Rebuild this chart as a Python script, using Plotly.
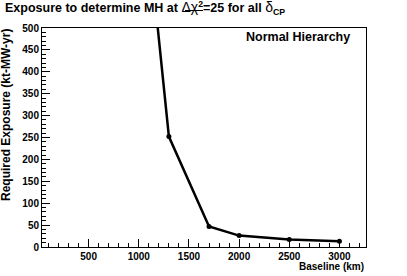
import plotly.graph_objects as go

baseline_km = [1000, 1300, 1700, 2000, 2500, 3000]
exposure = [922, 252, 47, 26, 17, 13]

W, H = 407, 276
L, R, T, B = 42, 366, 28, 247  # plot frame pixels

def px(x):
    return (x - L) / (R - L)

def py(y):
    return (B - y) / (B - T)

FONT = "Liberation Sans, Arial, Helvetica, sans-serif"

fig = go.Figure()
fig.add_trace(go.Scatter(
    x=baseline_km, y=exposure, mode="lines+markers",
    line=dict(color="black", width=2.5),
    marker=dict(color="black", size=5),
    cliponaxis=True, showlegend=False, hoverinfo="skip",
))

fig.update_layout(
    width=W, height=H,
    margin=dict(l=L, r=W - R, t=T, b=H - B, pad=0),
    paper_bgcolor="white", plot_bgcolor="white",
    font=dict(family=FONT, color="black"),
    xaxis=dict(
        range=[35, 3265], tick0=0, dtick=500, ticks="inside", ticklen=8,
        tickwidth=1, tickcolor="black", showgrid=False, zeroline=False,
        showline=True, linecolor="black", linewidth=1, mirror=True,
        tickfont=dict(size=10, family=FONT, weight="bold"),
        minor=dict(dtick=100, ticks="inside", ticklen=4, tickcolor="black", showgrid=False),
    ),
    yaxis=dict(
        range=[0, 500], tick0=0, dtick=50, ticks="inside", ticklen=8,
        tickwidth=1, tickcolor="black", showgrid=False, zeroline=False,
        showline=True, linecolor="black", linewidth=1, mirror=True,
        tickfont=dict(size=10, family=FONT, weight="bold"),
        minor=dict(dtick=10, ticks="inside", ticklen=4, tickcolor="black", showgrid=False),
    ),
)

title = ("<b>Exposure to determine MH at </b>"
         "<span style='font-size:14px'>Δχ</span><sup><b>2</b></sup>"
         "<b>=25 for all </b><span style='font-size:14px'>δ</span><sub><b>CP</b></sub>")

annotations = [
    dict(text=title, x=px(3), y=py(19.5), xanchor="left", yanchor="bottom",
         font=dict(size=12.5, family=FONT)),
    dict(text="<b>Required Exposure (kt-MW-yr)</b>", textangle=-90,
         x=px(6), y=py(27), xanchor="center", yanchor="top",
         font=dict(size=12, family=FONT)),
    dict(text="<b>Baseline (km)</b>",
         x=px(366), y=py(259), xanchor="right", yanchor="top",
         font=dict(size=10, family=FONT)),
    dict(text="<b>Normal Hierarchy</b>",
         x=px(244), y=py(37), xanchor="left", yanchor="middle",
         font=dict(size=12.5, family=FONT)),
]
for a in annotations:
    a.update(xref="paper", yref="paper", showarrow=False)
fig.update_layout(annotations=annotations)

fig.add_shape(type="line", xref="paper", yref="paper",
              x0=px(185), x1=px(203), y0=py(10.5), y1=py(10.5),
              line=dict(color="black", width=1))

fig.write_html("out.html", config={"displayModeBar": False},
               post_script="document.body.style.margin='0';document.body.style.overflow='hidden';")
